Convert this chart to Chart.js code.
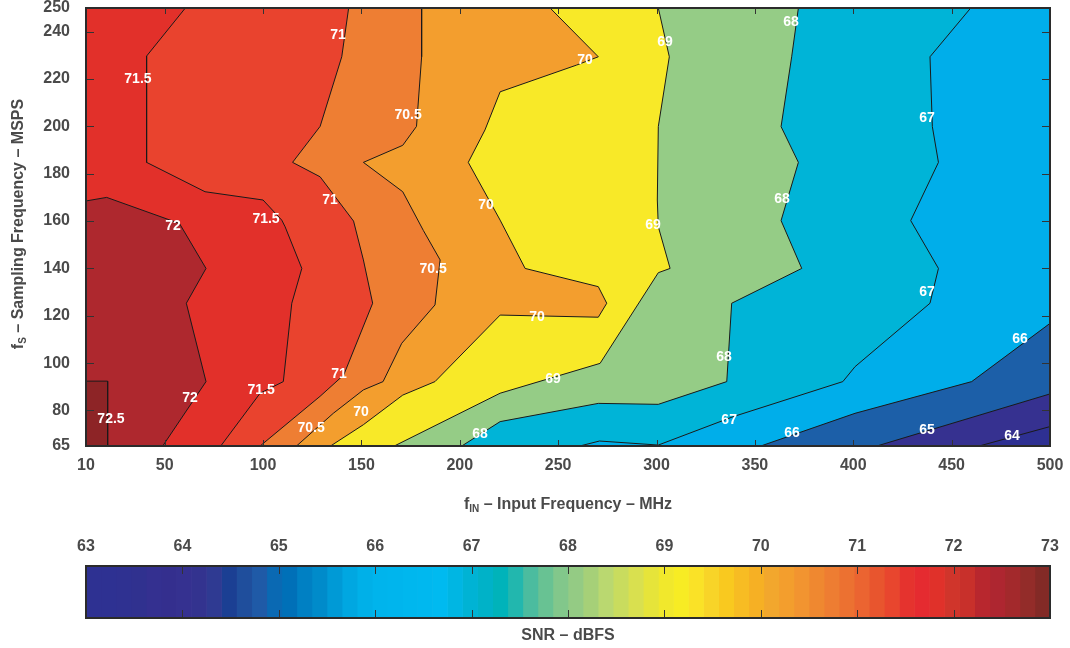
<!DOCTYPE html>
<html>
<head>
<meta charset="utf-8">
<script src="https://cdn.jsdelivr.net/npm/chart.js@4.4.0/dist/chart.umd.min.js"></script>
<style>
  body { margin: 0; background: #fff; }
  #wrap { position: relative; width: 1070px; height: 648px; }
  #main { position: absolute; left: 0; top: 0; }
  #bar { position: absolute; left: 0; top: 520px; }
</style>
</head>
<body>
<div id="wrap">
  <canvas id="main" width="1070" height="520"></canvas>
  <canvas id="bar" width="1070" height="128"></canvas>
</div>
<script>
// === Dados ===
const xTicks = [10, 50, 100, 150, 200, 250, 300, 350, 400, 450, 500];
const yTicks = [65, 80, 100, 120, 140, 160, 180, 200, 220, 240, 250];
const barTicks = [63, 64, 65, 66, 67, 68, 69, 70, 71, 72, 73];

// contour lines [fIN, fS], from one plot edge to the bottom edge
const c725 = [[10, 92.4], [21, 92.4], [21, 65]];
const c72 = [[10, 168.5], [20.5, 170], [57.5, 159], [71, 140], [61, 125.3], [71, 92.2], [49, 65]];
const c715 = [[60.5, 250], [40.8, 229.7], [40.8, 184.8], [70.5, 172.4], [100, 168.9], [109.5, 160.4],
  [111.2, 157.6], [119.7, 140], [114.6, 125.3], [110.3, 92.2], [98.5, 87.3], [78.5, 65]];
const c71 = [[143.5, 250], [140, 229.4], [129, 200], [115, 184.8], [129, 178.7], [146, 160],
  [151, 143.6], [155.7, 125.3], [141, 95], [129, 86], [98.5, 65]];
const c705 = [[180.6, 250], [180.6, 229.4], [178, 200], [171, 192], [151, 184.8], [171, 172.4],
  [181.5, 156], [190, 143.6], [187.4, 124.6], [170.5, 108.4], [161, 92.2], [151, 88.7], [135.7, 78.8], [117, 65]];
const c70 = [[245.9, 250], [270.4, 229.4], [259.4, 225.9], [220.5, 214.6], [212.8, 198.5], [204.3, 184.8],
  [220.5, 160.4], [233.2, 140], [270.4, 132.3], [274.7, 125.3], [270.4, 119.4], [220.5, 120.3],
  [187.4, 92.2], [171, 86.5], [151, 74], [134.3, 65]];
const c69 = [[300.9, 250], [306.5, 229.4], [300.9, 199.9], [300.4, 168.9], [300.9, 157.6], [306.9, 140],
  [300.9, 138.2], [271.3, 99.9], [220.5, 87.3], [166.7, 65]];
const c68 = [[372.1, 250], [368.7, 229.4], [363.3, 199.9], [372.1, 184.8], [363.3, 160.2], [373.8, 140],
  [338.2, 125.3], [335.7, 92.2], [300.9, 82.6], [270.4, 83], [220.5, 75.3], [201, 65]];
const c67 = [[459.7, 250], [439, 229.4], [440.2, 199.9], [443.3, 184.8], [429.2, 160.2], [443.3, 140],
  [439, 125.3], [400.9, 98.5], [394.7, 92.2], [339, 77.4], [300.9, 65.4], [271, 67.1], [261, 65]];
const c66 = [[500, 116.8], [460.2, 92.2], [400.9, 78.8], [353, 65]];
const c65 = [[500, 87], [412, 65]];
const c64 = [[500, 73.2], [464, 65]];

const levels = [72.5, 72, 71.5, 71, 70.5, 70, 69, 68, 67, 66, 65, 64];
const contourLines = [c725, c72, c715, c71, c705, c70, c69, c68, c67, c66, c65, c64];

// [fIN, fS, texto]
const contourLabels = [
  [36.4, 220, '71.5'], [138.1, 238.6, '71'], [173.7, 204.8, '70.5'], [263.7, 228, '70'],
  [304.3, 235.6, '69'], [368.4, 244, '68'], [437.5, 203.5, '67'],
  [54.2, 157.9, '72'], [101.5, 160.9, '71.5'], [134, 168.9, '71'], [213.3, 166.8, '70'],
  [298.2, 158.3, '69'], [363.8, 169.3, '68'], [186.4, 139.8, '70.5'], [239.3, 119.5, '70'],
  [437.5, 130, '67'], [484.8, 110.2, '66'], [334.3, 102.6, '68'], [138.6, 95.4, '71'],
  [247.4, 93.3, '69'], [62.9, 85.3, '72'], [99, 88.7, '71.5'], [22.7, 76.4, '72.5'],
  [149.8, 79.4, '70'], [124.4, 72.6, '70.5'], [210.3, 70.1, '68'], [336.9, 76, '67'],
  [368.9, 70.5, '66'], [437.5, 71.8, '65'], [480.7, 69.2, '64']
];

// === Estilo ===
const bandColors = ['#8D2426', '#AE282E', '#E2302A', '#E9432E', '#EE7E33', '#F39E2E',
  '#F8E928', '#95CC86', '#00B4D7', '#00AEEA', '#1C5FA8', '#363190'];
const baseColor = '#2E3092';
const colormap = ['#2E3192','#2E3192','#2F3191','#30318F','#343090','#342F8E','#353190','#33338F',
  '#2F3A92','#1B3F93','#1F4E9C','#1F5AA7','#0A69B3','#0070B8','#0080C3','#008BCA','#009AD6','#00A7E1',
  '#00B0E8','#00B4EC','#00B5ED','#00B7EE','#00B8EF','#00BAF0','#00B6E3','#00B3D4','#00B2C8','#00B3BA',
  '#22B7AE','#4BBC9F','#68C293','#82C78B','#94CB84','#A6D078','#BAD870','#C9DC5E','#D9E04F','#E6E43A',
  '#F1E82C','#F7EC24','#FAE227','#F8D428','#F9C91F','#F7BC23','#F6B024','#F2A72D','#F39E2D','#F29430',
  '#EF8830','#EE7D32','#EC7131','#EB6431','#E8552E','#E8462E','#E5332E','#E52B30','#E0312A','#D0352B',
  '#C8302B','#B8272E','#AE2630','#A3292C','#932C29','#832A26'];

const FONT = '"Liberation Sans", Arial, Helvetica, sans-serif';
const TXT = '#4a4a4a';
const X_MIN = 10, X_MAX = 500, Y_MIN = 65, Y_MAX = 250;

// fecha a região "acima" do nível pela borda esquerda do gráfico
function closeRegion(line) {
  const pts = line.map(p => ({ x: p[0], y: p[1] }));
  const s = line[0];
  pts.push({ x: X_MIN, y: Y_MIN });
  if (s[0] !== X_MIN) {
    pts.push({ x: X_MIN, y: Y_MAX });
    if (s[0] === X_MAX) pts.push({ x: X_MAX, y: Y_MAX });
  }
  return pts;
}

const datasets = contourLines.map((line, i) => ({
  label: String(levels[i]),
  data: closeRegion(line),
  backgroundColor: bandColors[i],
  borderColor: '#1a1a1a',
  borderWidth: 1,
  pointRadius: 0,
  tension: 0,
  fill: 'shape'
}));
datasets.push({
  label: 'base',
  data: [{ x: X_MIN, y: Y_MIN }, { x: X_MAX, y: Y_MIN }, { x: X_MAX, y: Y_MAX }, { x: X_MIN, y: Y_MAX }],
  backgroundColor: baseColor,
  borderWidth: 0,
  pointRadius: 0,
  fill: 'shape'
});

// texto com subscrito (f_IN, f_S)
function drawParts(ctx, parts, cx, cy) {
  let w = 0;
  parts.forEach(p => { ctx.font = `bold ${p[1]}px ${FONT}`; w += ctx.measureText(p[0]).width; });
  let x = cx - w / 2;
  ctx.textAlign = 'left';
  ctx.textBaseline = 'middle';
  parts.forEach(p => {
    ctx.font = `bold ${p[1]}px ${FONT}`;
    ctx.fillText(p[0], x, cy + (p[2] || 0));
    x += ctx.measureText(p[0]).width;
  });
}

const contourPlugin = {
  id: 'contourExtras',
  afterDatasetsDraw(chart) {
    const { ctx, chartArea: a, scales: { x, y } } = chart;
    ctx.save();
    // rótulos das curvas
    ctx.fillStyle = '#fff';
    ctx.font = `bold 14px ${FONT}`;
    ctx.textAlign = 'center';
    ctx.textBaseline = 'middle';
    contourLabels.forEach(l => ctx.fillText(l[2], x.getPixelForValue(l[0]), y.getPixelForValue(l[1])));
    // marcas internas
    ctx.strokeStyle = '#333';
    ctx.lineWidth = 1;
    ctx.beginPath();
    xTicks.forEach(v => {
      const px = Math.round(x.getPixelForValue(v)) + 0.5;
      ctx.moveTo(px, a.bottom); ctx.lineTo(px, a.bottom - 6);
      ctx.moveTo(px, a.top); ctx.lineTo(px, a.top + 6);
    });
    yTicks.forEach(v => {
      const py = Math.round(y.getPixelForValue(v)) + 0.5;
      ctx.moveTo(a.left, py); ctx.lineTo(a.left + 8, py);
      ctx.moveTo(a.right, py); ctx.lineTo(a.right - 8, py);
    });
    ctx.stroke();
    // moldura
    ctx.strokeStyle = '#2b2b2b';
    ctx.lineWidth = 2;
    ctx.strokeRect(a.left, a.top, a.right - a.left, a.bottom - a.top);
    ctx.restore();
  },
  afterDraw(chart) {
    const { ctx, chartArea: a } = chart;
    ctx.save();
    ctx.fillStyle = TXT;
    drawParts(ctx, [['f', 16], ['IN', 10, 4], [' \u2013 Input Frequency \u2013 MHz', 16]], (a.left + a.right) / 2, 505);
    ctx.translate(19, 224);
    ctx.rotate(-Math.PI / 2);
    drawParts(ctx, [['f', 16], ['S', 10, 4], [' \u2013 Sampling Frequency \u2013 MSPS', 16]], 0, 0);
    ctx.restore();
  }
};

const tickFont = { family: FONT, size: 16, weight: 'bold', lineHeight: 1 };

new Chart(document.getElementById('main'), {
  type: 'line',
  data: { datasets },
  options: {
    responsive: false,
    animation: false,
    layout: { autoPadding: false, padding: { left: 0, right: 20, top: 8, bottom: 0 } },
    plugins: { legend: { display: false }, tooltip: { enabled: false } },
    scales: {
      x: {
        type: 'linear', min: X_MIN, max: X_MAX,
        afterBuildTicks: s => { s.ticks = xTicks.map(v => ({ value: v })); },
        afterFit: s => { s.height = 74; s.paddingLeft = 0; s.paddingRight = 0; },
        grid: { display: false, drawTicks: false },
        border: { display: false },
        ticks: { font: tickFont, color: TXT, padding: 12, maxRotation: 0, autoSkip: false }
      },
      y: {
        type: 'linear', min: Y_MIN, max: Y_MAX,
        afterBuildTicks: s => { s.ticks = yTicks.map(v => ({ value: v })); },
        afterFit: s => { s.width = 86; s.paddingTop = 0; s.paddingBottom = 0; },
        grid: { display: false, drawTicks: false },
        border: { display: false },
        ticks: { font: tickFont, color: TXT, padding: 16, autoSkip: false }
      }
    }
  },
  plugins: [contourPlugin]
});

// === Barra de cores ===
const cbarMin = 63, cbarMax = 73;
const step = (cbarMax - cbarMin) / colormap.length;
const barSets = colormap.map((c, i) => ({
  data: [[cbarMin + i * step, cbarMin + (i + 1) * step]],
  backgroundColor: c,
  borderWidth: 0,
  grouped: false,
  barPercentage: 1,
  categoryPercentage: 1
}));

const barPlugin = {
  id: 'barExtras',
  afterDatasetsDraw(chart) {
    const { ctx, chartArea: a, scales: { x } } = chart;
    ctx.save();
    ctx.strokeStyle = '#333';
    ctx.lineWidth = 1;
    ctx.beginPath();
    barTicks.slice(1, -1).forEach(v => {
      const px = Math.round(x.getPixelForValue(v)) + 0.5;
      ctx.moveTo(px, a.top); ctx.lineTo(px, a.top + 8);
      ctx.moveTo(px, a.bottom); ctx.lineTo(px, a.bottom - 8);
    });
    ctx.stroke();
    ctx.strokeStyle = '#2b2b2b';
    ctx.lineWidth = 2;
    ctx.strokeRect(a.left, a.top, a.right - a.left, a.bottom - a.top);
    ctx.fillStyle = TXT;
    ctx.font = `bold 16px ${FONT}`;
    ctx.textAlign = 'center';
    ctx.textBaseline = 'middle';
    ctx.fillText('SNR \u2013 dBFS', (a.left + a.right) / 2, 116);
    ctx.restore();
  }
};

new Chart(document.getElementById('bar'), {
  type: 'bar',
  data: { labels: ['SNR'], datasets: barSets },
  options: {
    indexAxis: 'y',
    responsive: false,
    animation: false,
    layout: { padding: { left: 86, right: 20, top: 0, bottom: 30 } },
    plugins: { legend: { display: false }, tooltip: { enabled: false } },
    scales: {
      x: {
        type: 'linear', position: 'top', min: cbarMin, max: cbarMax,
        afterBuildTicks: s => { s.ticks = barTicks.map(v => ({ value: v })); },
        afterFit: s => { s.height = 46; },
        grid: { display: false, drawTicks: false },
        border: { display: false },
        ticks: { font: tickFont, color: TXT, padding: 11, maxRotation: 0, autoSkip: false }
      },
      y: { display: false }
    }
  },
  plugins: [barPlugin]
});
</script>
</body>
</html>
